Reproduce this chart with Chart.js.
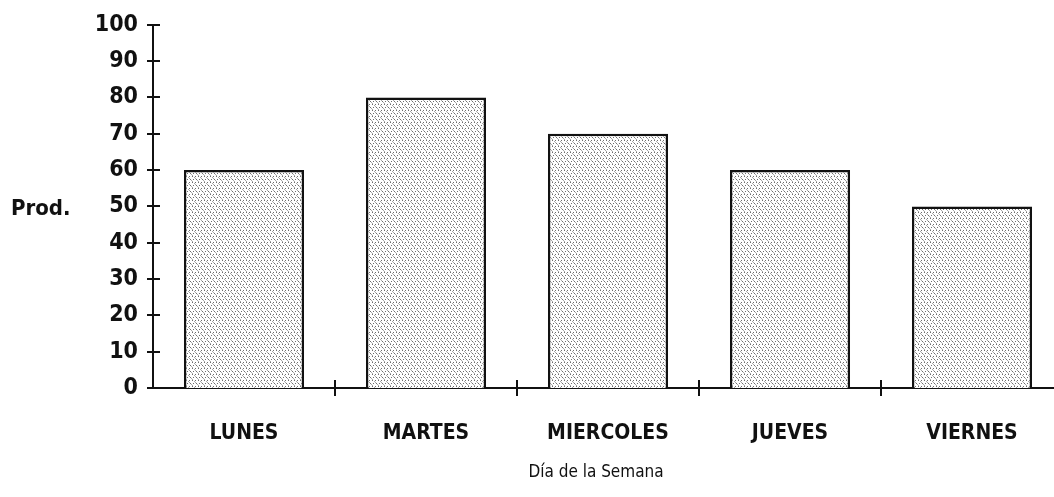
<!DOCTYPE html>
<html>
<head>
<meta charset="utf-8">
<script src="https://cdn.jsdelivr.net/npm/chart.js@4.4.1/dist/chart.umd.min.js"></script>
<style>
  html, body { margin: 0; padding: 0; background: #fff; overflow: hidden; }
  #wrap { position: relative; width: 1066px; height: 501px; margin-top: -4px; }
</style>
</head>
<body>
<div id="wrap"><canvas id="ourChart"></canvas></div>
<script>
var dias = ["LUNES", "MARTES", "MIERCOLES", "JUEVES", "VIERNES"];
var produccion = [60, 80, 70, 60, 50];
var yTicks = [0, 10, 20, 30, 40, 50, 60, 70, 80, 90, 100];

var FONT = '"DejaVu Sans Condensed", "DejaVu Sans", sans-serif';

// stippled fill like the old printout
function stipple() {
    var c = document.createElement('canvas');
    c.width = 6; c.height = 6;
    var g = c.getContext('2d');
    g.fillStyle = '#ffffff';
    g.fillRect(0, 0, 6, 6);
    g.fillStyle = '#6e6e6e';
    g.fillRect(0, 0, 1, 1);
    g.fillRect(3, 0, 1, 1);
    g.fillRect(1, 3, 1, 1);
    g.fillRect(4, 3, 1, 1);
    g.fillStyle = '#a8a8a8';
    g.fillRect(2, 1, 1, 1);
    g.fillRect(5, 4, 1, 1);
    g.fillRect(0, 5, 1, 1);
    g.fillRect(3, 2, 1, 1);
    return g.createPattern(c, 'repeat');
}

// tick marks that cross the axes, plus the two axis titles
var crossTicks = {
    id: 'crossTicks',
    afterDraw: function (chart) {
        var ctx = chart.ctx;
        var xs = chart.scales.x, ys = chart.scales.y;
        var x0 = xs.left, y0 = ys.bottom;
        ctx.save();
        ctx.strokeStyle = '#111';
        ctx.lineWidth = 2;
        ctx.beginPath();
        yTicks.forEach(function (v) {
            var py = Math.round(ys.getPixelForValue(v));
            ctx.moveTo(x0 - 6, py);
            ctx.lineTo(x0 + 7, py);
        });
        var step = xs.getPixelForValue(1) - xs.getPixelForValue(0);
        for (var i = 0; i < dias.length - 1; i++) {
            var px = Math.round(xs.getPixelForValue(i) + step / 2);
            ctx.moveTo(px, y0 - 8);
            ctx.lineTo(px, y0 + 8);
        }
        ctx.stroke();

        // canvas sits 4px higher than the page
        ctx.fillStyle = '#111';
        ctx.font = 'bold 22px ' + FONT;
        ctx.textAlign = 'left';
        ctx.textBaseline = 'middle';
        ctx.fillText('Prod.', 11, 213);
        ctx.font = '17px ' + FONT;
        ctx.textAlign = 'center';
        ctx.fillText('Día de la Semana', 596, 477);
        ctx.restore();
    }
};

var chartElement = new Chart(document.getElementById('ourChart'), {
    type: 'bar',
    data: {
        labels: dias,
        datasets: [
            {
                label: 'Prod.',
                data: produccion,
                backgroundColor: stipple(),
                borderColor: '#111',
                borderWidth: 2.5,
                borderSkipped: 'bottom',
                barPercentage: 0.66,
                categoryPercentage: 1
            }
        ]
    },
    options: {
        responsive: true,
        maintainAspectRatio: false,
        animation: false,
        layout: { padding: { top: 21, right: 3, left: 0, bottom: 0 } },
        plugins: {
            legend: { display: false },
            tooltip: { enabled: false }
        },
        scales: {
            x: {
                grid: { display: false, drawTicks: false },
                border: { display: true, color: '#111', width: 2 },
                ticks: {
                    color: '#111',
                    padding: 33,
                    maxRotation: 0,
                    font: { family: FONT, size: 21, weight: 'bold' }
                },
                afterFit: function (s) { s.height = 109; }
            },
            y: {
                min: 0,
                max: 100,
                afterBuildTicks: function (s) {
                    s.ticks = yTicks.map(function (v) { return { value: v }; });
                },
                grid: { display: false, drawTicks: false },
                border: { display: true, color: '#111', width: 2 },
                ticks: {
                    color: '#111',
                    padding: 15,
                    font: { family: FONT, size: 23, weight: 'bold' }
                },
                afterFit: function (s) { s.width = 153; }
            }
        }
    },
    plugins: [crossTicks]
});
</script>
</body>
</html>
